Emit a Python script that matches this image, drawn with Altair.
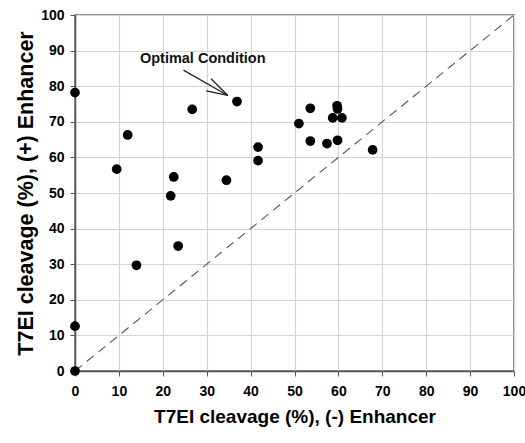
import altair as alt
import pandas as pd

# Data
x_minus = [0, 0, 0, 9.5, 12.0, 14.0, 21.8, 22.5, 23.5, 26.7, 34.5, 36.9, 41.7, 41.7,
           51.0, 53.6, 53.6, 57.4, 58.7, 59.7, 59.8, 59.8, 60.8, 67.8]
y_plus = [0, 12.6, 78.2, 56.7, 66.3, 29.7, 49.2, 54.5, 35.1, 73.5, 53.6, 75.7, 62.9, 59.1,
          69.5, 73.8, 64.6, 63.9, 71.1, 74.5, 73.6, 64.8, 71.1, 62.1]

diag_x = [0, 100]
diag_y = [0, 100]

# annotation
note_text = ["Optimal Condition"]
note_x = [29.1]
note_y = [87.6]
arrow_x1 = [24.7, 31.0, 29.9]
arrow_y1 = [84.5, 82.1, 78.7]
arrow_x2 = [34.8, 34.8, 34.8]
arrow_y2 = [77.4, 77.4, 77.4]

tick_vals = list(range(0, 101, 10))

FONT = "Liberation Sans"

pts = pd.DataFrame({"x": x_minus, "y": y_plus})
diag = pd.DataFrame({"x": diag_x, "y": diag_y})
note = pd.DataFrame({"x": note_x, "y": note_y, "t": note_text})
arrow = pd.DataFrame({"x": arrow_x1, "y": arrow_y1, "x2": arrow_x2, "y2": arrow_y2})

xscale = alt.Scale(domain=[0, 100], nice=False)
yscale = alt.Scale(domain=[0, 100], nice=False)

xaxis = alt.Axis(title="T7EI cleavage (%), (-) Enhancer", values=tick_vals, tickCount=11,
                 titleFontSize=19, titlePadding=9)
yaxis = alt.Axis(title="T7EI cleavage (%), (+) Enhancer", values=tick_vals, tickCount=11,
                 titleFontSize=21.5, titlePadding=3)


def X(field="x"):
    return alt.X(f"{field}:Q", scale=xscale, axis=xaxis)


def Y(field="y"):
    return alt.Y(f"{field}:Q", scale=yscale, axis=yaxis)


line = alt.Chart(diag).mark_line(color="#555555", strokeDash=[9, 6], strokeWidth=1.1).encode(
    x=X(), y=Y(),
)

points = alt.Chart(pts).mark_point(filled=True, shape="circle", size=95, color="black",
                                   opacity=1, clip=False).encode(
    x=X(), y=Y(),
)

arrows = alt.Chart(arrow).mark_rule(color="#222222", strokeWidth=1.3).encode(
    x=X(), y=Y(), x2="x2:Q", y2="y2:Q"
)

text = alt.Chart(note).mark_text(font=FONT, fontWeight="bold", fontSize=14.5,
                                 color="#111111").encode(
    x=X(), y=Y(), text="t:N"
)

chart = alt.layer(line, arrows, points, text).properties(
    width=439, height=356,
    autosize=alt.AutoSizeParams(type="none"),
    padding={"left": 75, "top": 15, "right": 11, "bottom": 72},
).configure_view(
    stroke="#666666", strokeWidth=1.5
).configure_axis(
    labelFont=FONT, titleFont=FONT, labelFontWeight="bold", titleFontWeight="bold",
    labelFontSize=14, labelColor="black", titleColor="black",
    labelOverlap=False, labelFlush=False,
    grid=True, gridColor="#d4d4d4", gridWidth=1.2,
    domainColor="#555555", domainWidth=1.5, tickColor="#555555", tickSize=5,
    labelPadding=6,
).configure_axisX(labelPadding=8)

chart.save("out.html", embed_options={"renderer": "svg", "actions": False})
